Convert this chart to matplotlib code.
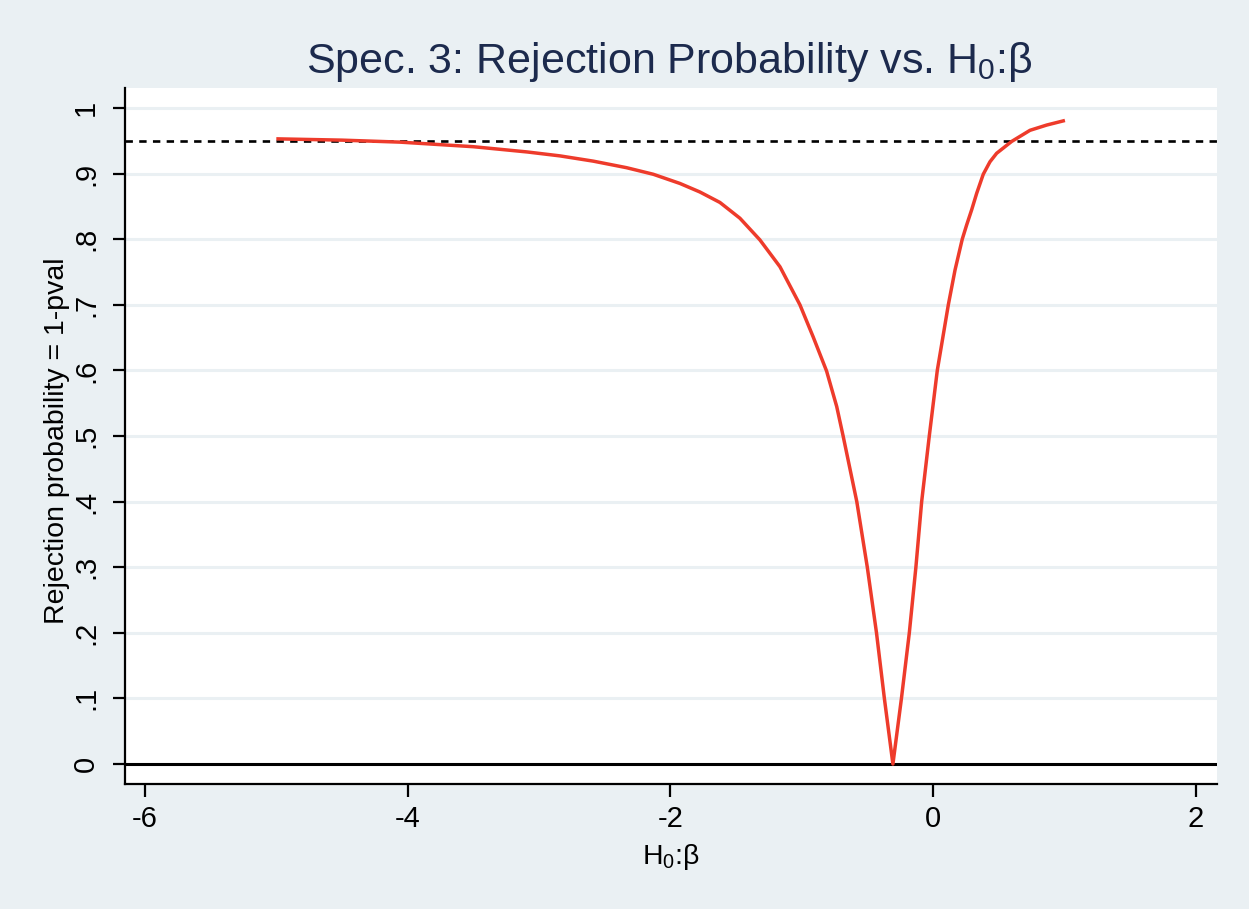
import matplotlib
matplotlib.use("Agg")
import matplotlib.pyplot as plt

# Data
beta0 = [-5.0, -4.5, -4.06, -3.5, -3.09, -2.84, -2.587, -2.333, -2.13, -1.927,
         -1.775, -1.622, -1.47, -1.318, -1.165, -1.013, -0.912, -0.81, -0.733,
         -0.683, -0.58, -0.50, -0.43, -0.37, -0.305,
         -0.24, -0.18, -0.13, -0.086, -0.028, 0.033, 0.117, 0.168, 0.223,
         0.257, 0.295, 0.333, 0.383, 0.434, 0.485, 0.599, 0.739, 0.866, 1.005]
rej_prob = [0.953, 0.951, 0.948, 0.941, 0.933, 0.927, 0.919, 0.909, 0.899, 0.885,
            0.872, 0.856, 0.832, 0.799, 0.758, 0.700, 0.651, 0.599, 0.545,
            0.499, 0.400, 0.300, 0.200, 0.100, 0.000,
            0.100, 0.200, 0.300, 0.400, 0.500, 0.600, 0.700, 0.753, 0.800,
            0.822, 0.845, 0.870, 0.899, 0.918, 0.931, 0.949, 0.966, 0.974, 0.981]
threshold = 0.95
xticks = [-6, -4, -2, 0, 2]
yticks = [0, 0.1, 0.2, 0.3, 0.4, 0.5, 0.6, 0.7, 0.8, 0.9, 1.0]
ytick_labels = ["0", ".1", ".2", ".3", ".4", ".5", ".6", ".7", ".8", ".9", "1"]

plt.rcParams['font.family'] = ['Liberation Sans', 'DejaVu Sans']
plt.rcParams['mathtext.fontset'] = 'custom'
plt.rcParams['mathtext.rm'] = 'Liberation Sans'
plt.rcParams['mathtext.it'] = 'Liberation Sans'

bg = '#EAF0F3'
fig = plt.figure(figsize=(12.49, 9.09), dpi=100, facecolor=bg)
ax = fig.add_axes([0.1001, 0.1375, 0.8743, 0.7657])
ax.set_facecolor('white')

for y in yticks:
    ax.axhline(y, color='#EAF0F3', lw=2.2, zorder=1)
ax.axhline(0, color='black', lw=2.2, zorder=2)
ax.axhline(threshold, color='black', lw=1.9, ls=(0, (2.8, 2.4)), zorder=2)
ax.plot(beta0, rej_prob, color='#EE3B2B', lw=2.5, zorder=3,
        solid_joinstyle='round', solid_capstyle='butt')

ax.set_xlim(-6.152, 2.163)
ax.set_ylim(-0.0305, 1.0305)
ax.set_xticks(xticks)
ax.set_xticklabels([str(t) for t in xticks])
ax.set_yticks(yticks)
ax.set_yticklabels(ytick_labels, rotation=90, va='center')

for s in ['top', 'right']:
    ax.spines[s].set_visible(False)
for s in ['left', 'bottom']:
    ax.spines[s].set_linewidth(1.6)
    ax.spines[s].set_color('black')
ax.tick_params(axis='both', direction='out', length=9, width=1.6, labelsize=21, colors='black')
ax.tick_params(axis='y', pad=9)
ax.tick_params(axis='x', pad=6)

ax.set_ylabel('Rejection probability = 1-pval', fontsize=20.5)
ax.yaxis.set_label_coords(-0.050, 0.493)
ax.set_xlabel(r'H$_0$:β', fontsize=20.5)
ax.xaxis.set_label_coords(0.5, -0.083)
fig.text(0.536, 0.932, r'Spec. 3: Rejection Probability vs. H$_0$:β', fontsize=31,
         color='#1C2A4D', ha='center', va='center')

fig.savefig('out.png', dpi=100, facecolor=bg)
